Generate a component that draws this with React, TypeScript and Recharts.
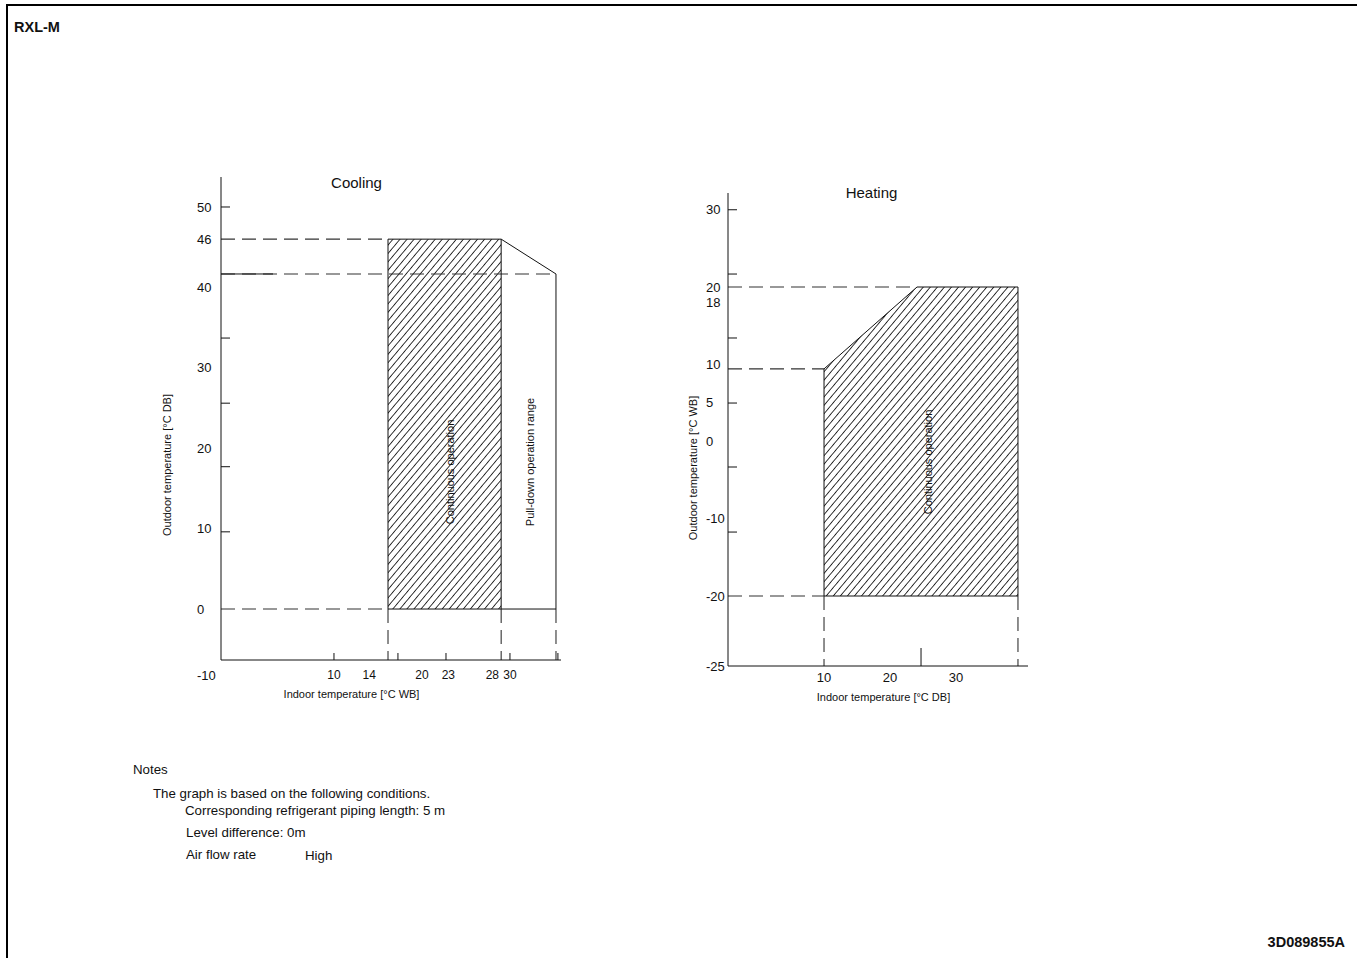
import React from "react";
import { Area, ComposedChart, Line, XAxis, YAxis } from "recharts";

const FONT = '"Liberation Sans", Arial, Helvetica, sans-serif';
const INK = "#111";
const DASH_INK = "#333";
const DASH = "14 7";

// Cooling: indoor temperature [°C WB] (x) vs outdoor temperature [°C DB] (y)
const coolXDomain: [number, number] = [-2.84, 35.8];
const coolYDomain: [number, number] = [-6.34, 53.73];
const coolXLabels = [10, 14, 20, 23, 28, 30];
const coolXMarks = [10, 17.27, 22.73, 30, 35.45];
const coolYLabels = [50, 46, 40, 30, 20, 10, 0];
const coolYMarks = [50, 33.7, 25.6, 17.7, 9.6];
const coolYCorner = "-10";
const coolContX = [16.14, 29.0]; // continuous operation, indoor limits
const coolContY = [0, 46]; // continuous operation, outdoor limits
const coolPullX = 35.23; // pull-down operation range, right limit
const coolPullTop = 41.67; // pull-down top at the right limit
const coolPullLead = 3.07; // solid lead-in of the 40 line

// Heating: indoor temperature [°C DB] (x) vs outdoor temperature [°C WB] (y)
const heatXDomain: [number, number] = [-4.55, 40.91];
const heatYDomain: [number, number] = [-29.06, 32.17];
const heatXLabels = [10, 20, 30];
const heatXMarks = [24.7];
const heatYLabels = [30, 20, 18, 10, 5, 0, -10, -20];
const heatYMarks = [30, 21.68, 13.4, 4.98, -3.3, -11.72];
const heatYCorner = "-25";
const heatContX = [10, 24.09, 39.39];
const heatContTop = [9.4, 20, 20];
const heatContLow = -20;

type Pt = { x: number; y: number };
const seg = (...pts: [number, number][]): Pt[] => pts.map(([x, y]) => ({ x, y }));

// cooling geometry
const [cx0, cx1] = coolContX;
const [cy0, cy1] = coolContY;
const cxMin = coolXDomain[0];
const cyMin = coolYDomain[0];
const coolBand = coolContX.map((x) => ({ x, band: [cy0, cy1] }));
const coolSolid = [
  seg([cx0, cy0], [cx0, cy1], [cx1, cy1], [cx1, cy0], [cx0, cy0]),
  seg([cx1, cy1], [coolPullX, coolPullTop], [coolPullX, cy0], [cx1, cy0]),
  seg([cxMin, coolPullTop], [coolPullLead, coolPullTop]),
];
const coolDashed = [
  seg([cxMin, cy1], [cx0, cy1]),
  seg([cxMin, coolPullTop], [coolPullX, coolPullTop]),
  seg([cxMin, cy0], [cx0, cy0]),
  seg([cx0, cy0], [cx0, cyMin]),
  seg([cx1, cy0], [cx1, cyMin]),
  seg([coolPullX, cy0], [coolPullX, cyMin]),
];

// heating geometry
const hxMin = heatXDomain[0];
const hyMin = heatYDomain[0];
const hFirst = heatContX[0];
const hLast = heatContX[heatContX.length - 1];
const heatBand = heatContX.map((x, i) => ({ x, band: [heatContLow, heatContTop[i]] }));
const heatSolid = [
  [
    ...heatContX.map((x, i) => ({ x, y: heatContTop[i] })),
    { x: hLast, y: heatContLow },
    { x: hFirst, y: heatContLow },
    { x: hFirst, y: heatContTop[0] },
  ],
];
const heatDashed = [
  seg([hxMin, heatContTop[1]], [heatContX[1], heatContTop[1]]),
  seg([hxMin, heatContTop[0]], [hFirst, heatContTop[0]]),
  seg([hxMin, heatContLow], [hFirst, heatContLow]),
  seg([hFirst, heatContLow], [hFirst, hyMin]),
  seg([hLast, heatContLow], [hLast, hyMin]),
];

const Blank = () => <g />;

const XLabel = (props: any) => {
  const { x, y, payload, fontSize } = props;
  return (
    <text x={x} y={y} dy="0.71em" textAnchor="middle" fontSize={fontSize} fill={INK} fontFamily={FONT}>
      {payload.value}
    </text>
  );
};

const YLabel = (props: any) => {
  const { x, y, payload, corner, cornerAt, cornerDy } = props;
  const isCorner = payload.value === cornerAt;
  return (
    <text
      x={x}
      y={y + (isCorner ? cornerDy : 0)}
      dy="0.35em"
      textAnchor="start"
      fontSize={13}
      fill={INK}
      fontFamily={FONT}
    >
      {isCorner ? corner : payload.value}
    </text>
  );
};

type PanelProps = {
  left: number;
  top: number;
  width: number;
  height: number;
  margin: { top: number; right: number; bottom: number; left: number };
  hatchId: string;
  xDomain: [number, number];
  yDomain: [number, number];
  xLabels: number[];
  xMarks: number[];
  xMarkSize: number;
  xFont: number;
  xTickMargin: number;
  yLabels: number[];
  yMarks: number[];
  yTickMargin: number;
  yCorner: string;
  cornerDy: number;
  band: { x: number; band: number[] }[];
  solid: Pt[][];
  dashed: Pt[][];
};

const Panel = (p: PanelProps) => (
  <div style={{ position: "absolute", left: p.left, top: p.top }}>
    <ComposedChart width={p.width} height={p.height} margin={p.margin}>
      <defs>
        <pattern
          id={p.hatchId}
          patternUnits="userSpaceOnUse"
          width={5.4}
          height={10}
          patternTransform="rotate(40)"
        >
          <rect x={0} y={0} width={0.9} height={10} fill="#222" />
        </pattern>
      </defs>
      <XAxis
        dataKey="x"
        type="number"
        domain={p.xDomain}
        allowDataOverflow
        ticks={p.xLabels}
        interval={0}
        height={30}
        stroke={INK}
        tickLine={false}
        tickSize={0}
        tickMargin={p.xTickMargin}
        tick={<XLabel fontSize={p.xFont} />}
      />
      <XAxis
        xAxisId="m"
        dataKey="x"
        type="number"
        domain={p.xDomain}
        allowDataOverflow
        ticks={p.xMarks}
        interval={0}
        mirror
        height={1}
        stroke={INK}
        axisLine={false}
        tickLine={{ stroke: INK, strokeWidth: 1 }}
        tickSize={p.xMarkSize}
        tick={<Blank />}
      />
      <YAxis
        type="number"
        domain={p.yDomain}
        allowDataOverflow
        ticks={[...p.yLabels, p.yDomain[0]]}
        interval={0}
        width={50}
        stroke={INK}
        tickLine={false}
        tickSize={0}
        tickMargin={p.yTickMargin}
        tick={<YLabel corner={p.yCorner} cornerAt={p.yDomain[0]} cornerDy={p.cornerDy} />}
      />
      <YAxis
        yAxisId="m"
        type="number"
        domain={p.yDomain}
        allowDataOverflow
        ticks={p.yMarks}
        interval={0}
        mirror
        width={1}
        stroke={INK}
        axisLine={false}
        tickLine={{ stroke: INK, strokeWidth: 1 }}
        tickSize={9}
        tick={<Blank />}
      />
      <Area
        data={p.band}
        dataKey="band"
        type="linear"
        fill={`url(#${p.hatchId})`}
        fillOpacity={1}
        stroke="none"
        isAnimationActive={false}
      />
      {p.dashed.map((d, i) => (
        <Line
          key={`d${i}`}
          data={d}
          dataKey="y"
          type="linear"
          stroke={DASH_INK}
          strokeWidth={1.1}
          strokeDasharray={DASH}
          dot={false}
          activeDot={false}
          isAnimationActive={false}
        />
      ))}
      {p.solid.map((d, i) => (
        <Line
          key={`s${i}`}
          data={d}
          dataKey="y"
          type="linear"
          stroke={INK}
          strokeWidth={1}
          dot={false}
          activeDot={false}
          isAnimationActive={false}
        />
      ))}
    </ComposedChart>
  </div>
);

const Txt = ({
  x,
  y,
  size = 13.3,
  bold = false,
  align = "left",
  rotate = 0,
  children,
}: {
  x: number;
  y: number;
  size?: number;
  bold?: boolean;
  align?: "left" | "center" | "right";
  rotate?: number;
  children: React.ReactNode;
}) => {
  const tx = align === "left" ? "0" : align === "center" ? "-50%" : "-100%";
  return (
    <div
      style={{
        position: "absolute",
        left: x,
        top: y,
        transform: `translate(${tx}, -50%) rotate(${rotate}deg)`,
        fontSize: size,
        fontWeight: bold ? 700 : 400,
        lineHeight: 1,
        whiteSpace: "nowrap",
        color: INK,
        fontFamily: FONT,
      }}
    >
      {children}
    </div>
  );
};

export default function App() {
  return (
    <div
      style={{
        position: "absolute",
        left: 0,
        top: 0,
        width: 1357,
        height: 958,
        background: "#fff",
        overflow: "hidden",
        fontFamily: FONT,
      }}
    >
      <div style={{ position: "absolute", left: 6, top: 4, width: 1351, height: 2, background: "#000" }} />
      <div style={{ position: "absolute", left: 6, top: 4, width: 2, height: 954, background: "#000" }} />

      <Txt x={14} y={27} size={14.5} bold>
        RXL-M
      </Txt>

      <Panel
        left={150}
        top={150}
        width={430}
        height={560}
        margin={{ top: 27, right: 19, bottom: 20, left: 21 }}
        hatchId="hatchCool"
        xDomain={coolXDomain}
        yDomain={coolYDomain}
        xLabels={coolXLabels}
        xMarks={coolXMarks}
        xMarkSize={7}
        xFont={12}
        xTickMargin={10}
        yLabels={coolYLabels}
        yMarks={coolYMarks}
        yTickMargin={24}
        yCorner={coolYCorner}
        cornerDy={15}
        band={coolBand}
        solid={coolSolid}
        dashed={coolDashed}
      />
      <Txt x={356.5} y={182} size={15} align="center">
        Cooling
      </Txt>
      <Txt x={167} y={465} size={11} align="center" rotate={-90}>
        Outdoor temperature [°C DB]
      </Txt>
      <Txt x={351.5} y={694} size={11} align="center">
        Indoor temperature [°C WB]
      </Txt>
      <Txt x={450} y={472} size={11} align="center" rotate={-90}>
        Continuous operation
      </Txt>
      <Txt x={530} y={462} size={11} align="center" rotate={-90}>
        Pull-down operation range
      </Txt>

      <Panel
        left={650}
        top={150}
        width={420}
        height={560}
        margin={{ top: 43, right: 42, bottom: 14, left: 28 }}
        hatchId="hatchHeat"
        xDomain={heatXDomain}
        yDomain={heatYDomain}
        xLabels={heatXLabels}
        xMarks={heatXMarks}
        xMarkSize={18}
        xFont={13}
        xTickMargin={7}
        yLabels={heatYLabels}
        yMarks={heatYMarks}
        yTickMargin={22}
        yCorner={heatYCorner}
        cornerDy={0}
        band={heatBand}
        solid={heatSolid}
        dashed={heatDashed}
      />
      <Txt x={871.5} y={192} size={15} align="center">
        Heating
      </Txt>
      <Txt x={693} y={468} size={11} align="center" rotate={-90}>
        Outdoor temperature [°C WB]
      </Txt>
      <Txt x={883.5} y={697} size={11} align="center">
        Indoor temperature [°C DB]
      </Txt>
      <Txt x={928} y={462} size={11} align="center" rotate={-90}>
        Continuous operation
      </Txt>

      <Txt x={133} y={770}>Notes</Txt>
      <Txt x={153} y={794}>The graph is based on the following conditions.</Txt>
      <Txt x={185} y={811}>Corresponding refrigerant piping length: 5 m</Txt>
      <Txt x={186} y={833}>Level difference: 0m</Txt>
      <Txt x={186} y={855}>Air flow rate</Txt>
      <Txt x={305} y={856}>High</Txt>

      <Txt x={1345} y={942} size={14.5} bold align="right">
        3D089855A
      </Txt>
    </div>
  );
}
